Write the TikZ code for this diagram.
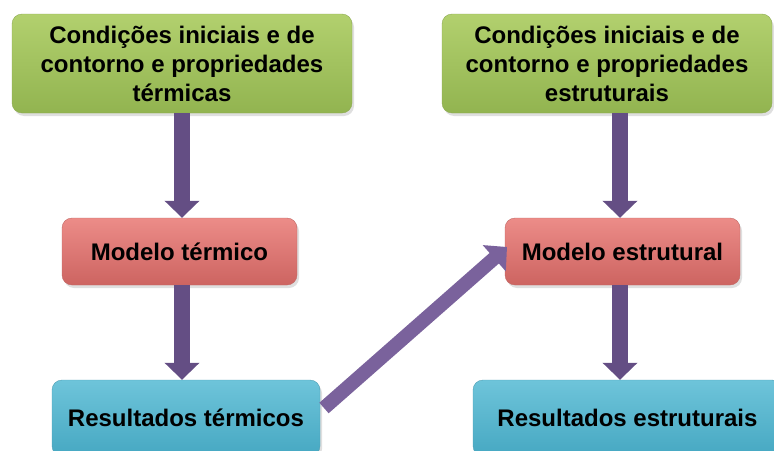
\documentclass[tikz,border=0pt]{standalone}
\usepackage{fontspec}
\setmainfont{Liberation Sans}
\usetikzlibrary{arrows.meta,shadows}
\definecolor{gtop}{RGB}{178,208,110}
\definecolor{gbot}{RGB}{146,180,80}
\definecolor{rtop}{RGB}{236,140,136}
\definecolor{rbot}{RGB}{205,100,97}
\definecolor{ctop}{RGB}{110,196,218}
\definecolor{cbot}{RGB}{70,168,194}
\definecolor{arr}{RGB}{100,78,132}
\definecolor{arrlight}{RGB}{122,98,156}
\tikzset{
  box/.style={rounded corners=10pt, inner sep=0pt, align=center,
    font=\bfseries\fontsize{24}{29}\selectfont,
    drop shadow={opacity=0.25, shadow xshift=2pt, shadow yshift=-3pt}},
  gbox/.style={box, top color=gtop, bottom color=gbot, draw=gbot!80!black!60!gtop},
  rbox/.style={box, top color=rtop, bottom color=rbot, draw=rbot!80!black!60!rtop},
  cbox/.style={box, top color=ctop, bottom color=cbot, draw=cbot!80!black!60!ctop},
  blockarrow/.style={draw=arr, line width=16pt,
    -{Triangle[width=34pt,length=17pt]}},
}
\begin{document}
\begin{tikzpicture}[x=1pt,y=-1pt]
\useasboundingbox (0,0) rectangle (774,450);
\node[gbox, minimum width=340pt, minimum height=99pt] (gl) at (182,63.5)
  {Condições iniciais e de\\contorno e propriedades\\térmicas};
\node[gbox, minimum width=330pt, minimum height=99pt] (gr) at (607,63.5)
  {Condições iniciais e de\\contorno e propriedades\\estruturais};
\node[rbox, minimum width=235pt, minimum height=67pt] (rl) at (179.5,251.5)
  {Modelo térmico};
\node[rbox, minimum width=235pt, minimum height=67pt] (rr) at (622.5,251.5)
  {Modelo estrutural};
\node[cbox, minimum width=268pt, minimum height=76pt] (cl) at (186,418)
  {Resultados térmicos};
\node[cbox, minimum width=309pt, minimum height=76pt] (cr) at (627.5,418)
  {Resultados estruturais};
\coordinate (a1) at (182,113);
\coordinate (a2) at (620,113);
\draw[blockarrow] (a1) -- (a1 |- rl.north);
\draw[blockarrow] (a1 |- rl.south) -- (a1 |- cl.north);
\draw[blockarrow] (a2) -- (a2 |- rr.north);
\draw[blockarrow] (a2 |- rr.south) -- (a2 |- cr.north);
\coordinate (d1) at (324,408);
\coordinate (d2) at (507,247);
\draw[blockarrow, draw=arrlight, line width=14pt] (d1) -- (d2);
\end{tikzpicture}
\end{document}
